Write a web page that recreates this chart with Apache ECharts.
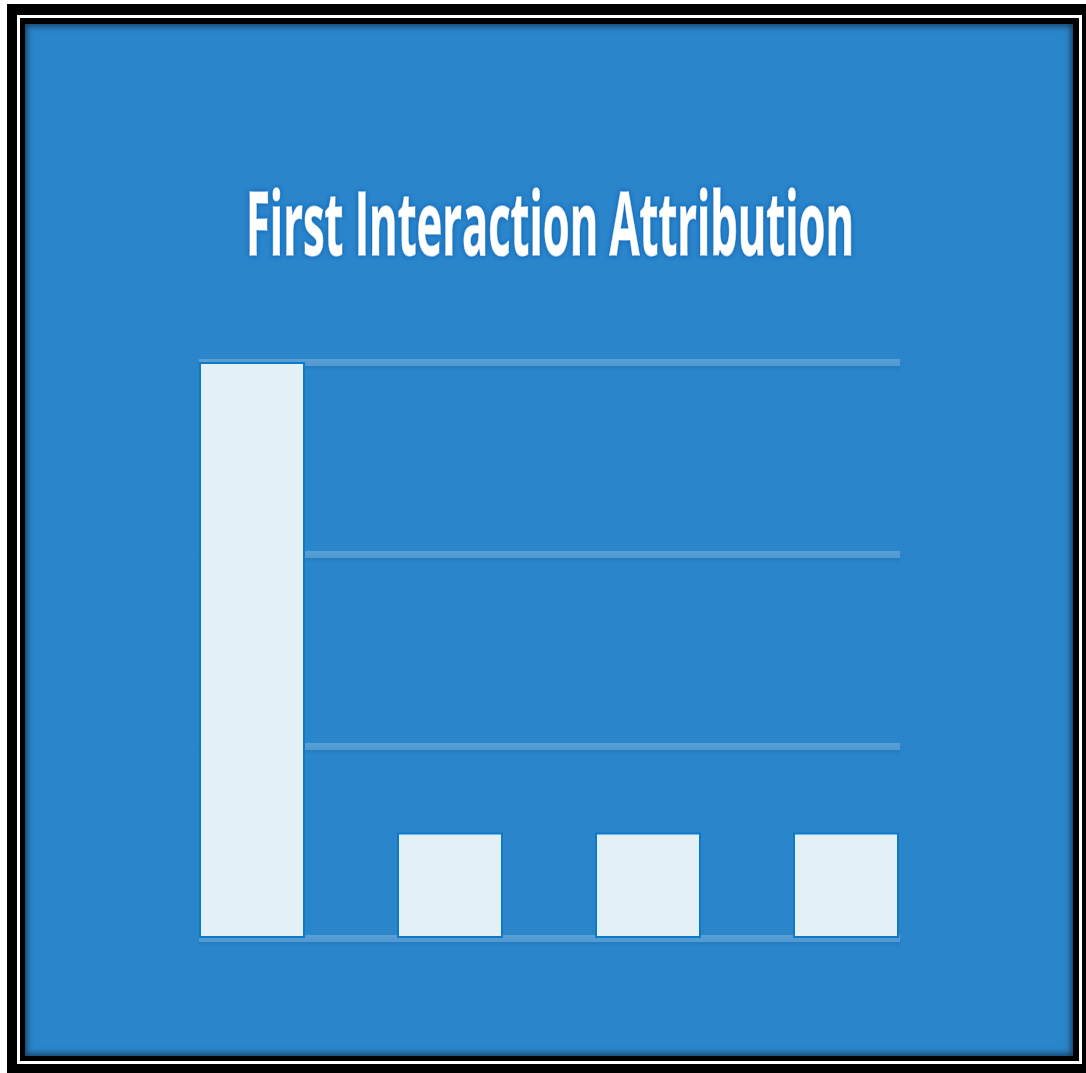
<!DOCTYPE html>
<html>
<head>
<meta charset="utf-8">
<script src="https://cdn.jsdelivr.net/npm/echarts@6/dist/echarts.min.js"></script>
<style>
  html, body { margin: 0; padding: 0; background: #ffffff; }
  body { width: 1086px; height: 1073px; position: relative; overflow: hidden; }
  .f { position: absolute; box-sizing: border-box; }
  #outer { left: 7px; top: 4px; width: 1079px; height: 1069px; background: #000; }
  #white { left: 17px; top: 15px; width: 1065px; height: 1049px; background: #fff; }
  #black { left: 20px; top: 18px; width: 1059px; height: 1043px; background: #000; }
  #blue { left: 25px; top: 24px; width: 1048px; height: 1032px; background: #2a85cb;
          box-shadow: inset 0 0 6px 2px rgba(0,0,0,0.55); }
  #chart { position: absolute; left: 0; top: 0; width: 1086px; height: 1073px; }
</style>
</head>
<body>
<div class="f" id="outer"></div>
<div class="f" id="white"></div>
<div class="f" id="black"></div>
<div class="f" id="blue"></div>
<div id="chart"></div>
<script>
// ---- data ----
const titleText = 'First Interaction Attribution';
const categories = ['A', 'B', 'C', 'D'];
const values = [30, 5.5, 5.5, 5.5];
const yMin = 0;
const yMax = 30;
const yInterval = 10;

// ---- title width fitting ----
const titleFont = 'bold 87px "Open Sans"';
const ctx = document.createElement('canvas').getContext('2d');
ctx.font = titleFont;
const measured = ctx.measureText(titleText).width || 1200;
const titleScaleX = 608 / measured;

const chart = echarts.init(document.getElementById('chart'), null, { renderer: 'canvas' });

const option = {
  backgroundColor: 'transparent',
  animation: false,
  grid: [
    { left: 153, width: 792, top: 362, height: 576, containLabel: false },
    { left: 199, width: 701, top: 362, height: 576, containLabel: false }
  ],
  xAxis: [
    { type: 'category', gridIndex: 0, data: categories, show: false },
    { type: 'value', gridIndex: 1, min: 0, max: 1,
      axisLine: { show: false }, axisTick: { show: false }, axisLabel: { show: false },
      splitLine: { show: false } }
  ],
  yAxis: [
    { type: 'value', gridIndex: 0, min: yMin, max: yMax, interval: yInterval, show: false },
    { type: 'value', gridIndex: 1, min: yMin, max: yMax, interval: yInterval,
      axisLine: { show: false }, axisTick: { show: false }, axisLabel: { show: false },
      splitLine: { show: true, lineStyle: {
        color: 'rgba(255,255,255,0.22)', width: 7,
        shadowColor: 'rgba(0,80,160,0.6)', shadowBlur: 2, shadowOffsetY: 3 } } }
  ],
  series: [
    {
      type: 'bar',
      xAxisIndex: 0, yAxisIndex: 0,
      data: values,
      barWidth: 106,
      z: 5,
      itemStyle: {
        color: '#e3f0f5',
        borderColor: '#0d79c8',
        borderWidth: 2
      }
    }
  ],
  graphic: [
    {
      type: 'text',
      x: 550, y: 230,
      scaleX: titleScaleX,
      z: 10,
      style: {
        text: titleText,
        font: titleFont,
        fill: '#ffffff',
        stroke: '#ffffff',
        lineWidth: 1.5,
        align: 'center',
        verticalAlign: 'middle',
        textShadowColor: '#0a62b4',
        textShadowBlur: 4
      }
    }
  ]
};
chart.setOption(option);
</script>
</body>
</html>
